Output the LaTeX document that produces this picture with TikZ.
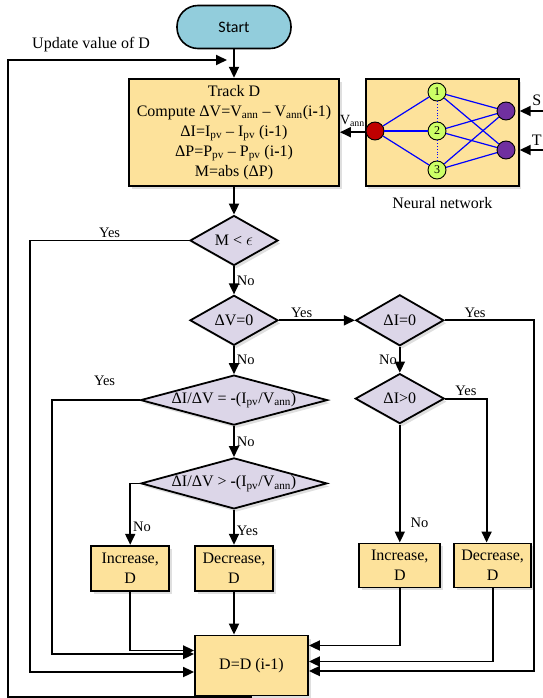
\documentclass[tikz,border=0pt]{standalone}
\usepackage{fontspec}
\setmainfont{Liberation Serif}
\newfontfamily\startfont{Carlito}
\usetikzlibrary{arrows.meta,calc,shapes.geometric,positioning,shadows}

\definecolor{boxfill}{RGB}{253,226,155}
\definecolor{decfill}{RGB}{220,214,232}
\definecolor{startfill}{RGB}{146,205,220}
\definecolor{inred}{RGB}{192,0,0}
\definecolor{hidgreen}{RGB}{204,255,102}
\definecolor{outpurple}{RGB}{112,48,160}

\newcommand{\lo}[1]{\textsubscript{#1}}
\newcommand{\hy}{\textbf{-}}

\begin{document}
\begin{tikzpicture}
        [
            x=1pt, y=-1pt,
            line/.style = {
                draw,
                line width=1.8pt,
                -{Triangle[length=11pt,width=10pt]}
            },
            block/.style = {
                rectangle,
                draw,
                line width=1.8pt,
                fill=boxfill,
                align=center,
                inner sep=0pt,
                font=\fontsize{16}{20}\selectfont,
                drop shadow={opacity=0.25, shadow xshift=2.5pt, shadow yshift=-3pt}
            },
            decision/.style = {
                diamond,
                draw,
                line width=1.8pt,
                fill=decfill,
                inner sep=0pt,
                font=\fontsize{16}{20}\selectfont,
                drop shadow={opacity=0.25, shadow xshift=2.5pt, shadow yshift=-3pt}
            },
            terminal/.style = {
                rectangle,
                draw,
                line width=1.6pt,
                fill=startfill,
                rounded corners=21pt,
                minimum width=114pt,
                minimum height=43pt,
                font=\startfont\fontsize{16}{20}\selectfont
            },
            neuron/.style = {
                circle,
                draw,
                line width=0.9pt,
                minimum size=18pt,
                inner sep=0pt,
                font=\fontsize{12}{12}\selectfont
            },
            syn/.style = {
                draw=blue,
                line width=1.2pt
            },
            lbl/.style = {
                font=\fontsize{14.5}{16}\selectfont,
                inner sep=2pt
            }
        ]

        \useasboundingbox (0,0) rectangle (542,698);

        \node[terminal] (start) at (234,27) {Start};
        \node[block, minimum width=210pt, minimum height=107pt, below=28.5pt of start] (track)
            {Track D\\ Compute ΔV=V\lo{ann} – V\lo{ann}(i\hy1)\\ ΔI=I\lo{pv} – I\lo{pv} (i\hy1)\\ ΔP=P\lo{pv} – P\lo{pv} (i\hy1)\\ M=abs (ΔP)};
        \node[decision, aspect=1.76, minimum width=88pt, minimum height=50pt, below=28pt of track] (mcheck) {M < $\epsilon$};
        \node[decision, aspect=1.76, minimum width=88pt, minimum height=50pt, below=28pt of mcheck] (dv) {ΔV=0};
        \node[decision, aspect=3.74, minimum width=187pt, minimum height=50pt, below=28pt of dv] (slope) {ΔI/ΔV = \hy(I\lo{pv}/V\lo{ann})};
        \node[decision, aspect=3.65, minimum width=186pt, minimum height=51pt, below=31pt of slope] (slopegt) {ΔI/ΔV > \hy(I\lo{pv}/V\lo{ann})};
        \node[block, minimum width=78pt, minimum height=45pt, below=35pt of slopegt] (dec1) {Decrease,\\ D};
        \node[block, minimum width=78pt, minimum height=45pt, left=24pt of dec1] (inc1) {Increase,\\ D};
        \node[block, minimum width=113pt, minimum height=60pt, below right=43pt and 0pt of dec1.south west] (upd) {D=D (i\hy1)};
        \node[decision, aspect=1.76, minimum width=88pt, minimum height=51pt, right=76pt of dv] (di) {ΔI=0};
        \node[decision, aspect=1.76, minimum width=89pt, minimum height=50pt, below=26pt of di] (dipos) {ΔI>0};
        \node[block, minimum width=81pt, minimum height=44pt, below=118pt of dipos] (inc2) {Increase,\\ D};
        \node[block, minimum width=77pt, minimum height=44pt, right=12pt of inc2] (dec2) {Decrease,\\ D};

        % neural network
        \node[block, minimum width=153pt, minimum height=107pt, right=25pt of track] (nn) {};
        \node[lbl, font=\fontsize{16}{20}\selectfont, below=9pt of nn] (nnlabel) {Neural network};
        \node[neuron, fill=inred] (in) at (375,131) {};
        \node[neuron, fill=hidgreen] (h1) at (437,92) {1};
        \node[neuron, fill=hidgreen] (h2) at (437,131) {2};
        \node[neuron, fill=hidgreen] (h3) at (437,170) {3};
        \node[neuron, fill=outpurple] (o1) at (506,111) {};
        \node[neuron, fill=outpurple] (o2) at (506,150) {};
        \foreach \h in {h1,h2,h3} {
            \path[syn] (in) -- (\h);
            \path[syn] (\h) -- (o1);
            \path[syn] (\h) -- (o2);
        }
        \path[draw=blue, dotted, line width=0.8pt] (h1) -- (h2) -- (h3);

        \coordinate (sin) at (546,111);
        \coordinate (tin) at (546,150);
        \coordinate (railA) at (30,672);
        \coordinate (railB) at (52,654);
        \coordinate (railC) at (534,671);
        \coordinate (loopA) at (8,697);
        \coordinate (loopC) at (227,60);

        \node[lbl, font=\fontsize{16}{20}\selectfont, anchor=west] (updtext) at (30,45) {Update value of D};

        \path[line] (start) -- (track);
        \path[line] (upd.south) |- (loopA) |- (loopC);
        \path[line] (nn) -- node[above=1pt, font=\fontsize{14}{14}\selectfont] {V\lo{ann}} (track);
        \path[line] (sin) -- node[lbl, above=2pt, pos=0.35, font=\fontsize{16}{20}\selectfont] {S} (nn.east |- o1);
        \path[line] (tin) -- node[lbl, above=2pt, pos=0.35, font=\fontsize{16}{20}\selectfont] {T} (nn.east |- o2);
        \path[line] (track) -- (mcheck);
        \path[line] (mcheck.west) -| node[lbl, above, pos=0.25] {Yes} (railA) -- (railA -| upd.west);
        \path[line] (mcheck) -- node[lbl, right] {No} (dv);
        \path[line] (dv) -- node[lbl, above, pos=0.3] {Yes} (di);
        \path[line] (dv) -- node[lbl, right] {No} (slope);
        \path[line] (slope.west) -| node[lbl, above=12pt, pos=0.2] {Yes} (railB) -- (railB -| upd.west);
        \path[line] (slope) -- node[lbl, right] {No} (slopegt);
        \path[line] (slopegt.west) -| node[lbl, right, pos=0.85] {No} (inc1.north);
        \path[line] (slopegt) -- node[lbl, right, pos=0.6] {Yes} (dec1);
        \path[line] (dec1) -- (dec1 |- upd.north);
        \path[line] (inc1.south) |- ([yshift=15pt]upd.west);
        \path[line] (di.east) -| node[lbl, above, pos=0.17] {Yes} (railC) -- (railC -| upd.east);
        \path[line] (di) -- node[lbl, left] {No} (dipos);
        \path[line] (dipos.east) -| node[lbl, above, pos=0.25] {Yes} ([xshift=-6pt]dec2.north);
        \path[line] (dipos) -- node[lbl, right=8pt, pos=0.83] {No} (dipos |- inc2.north);
        \path[line] (inc2.south) |- ([yshift=20pt]upd.east);
        \path[line] (dec2.south) |- ([yshift=4pt]upd.east);
    \end{tikzpicture}
\end{document}
